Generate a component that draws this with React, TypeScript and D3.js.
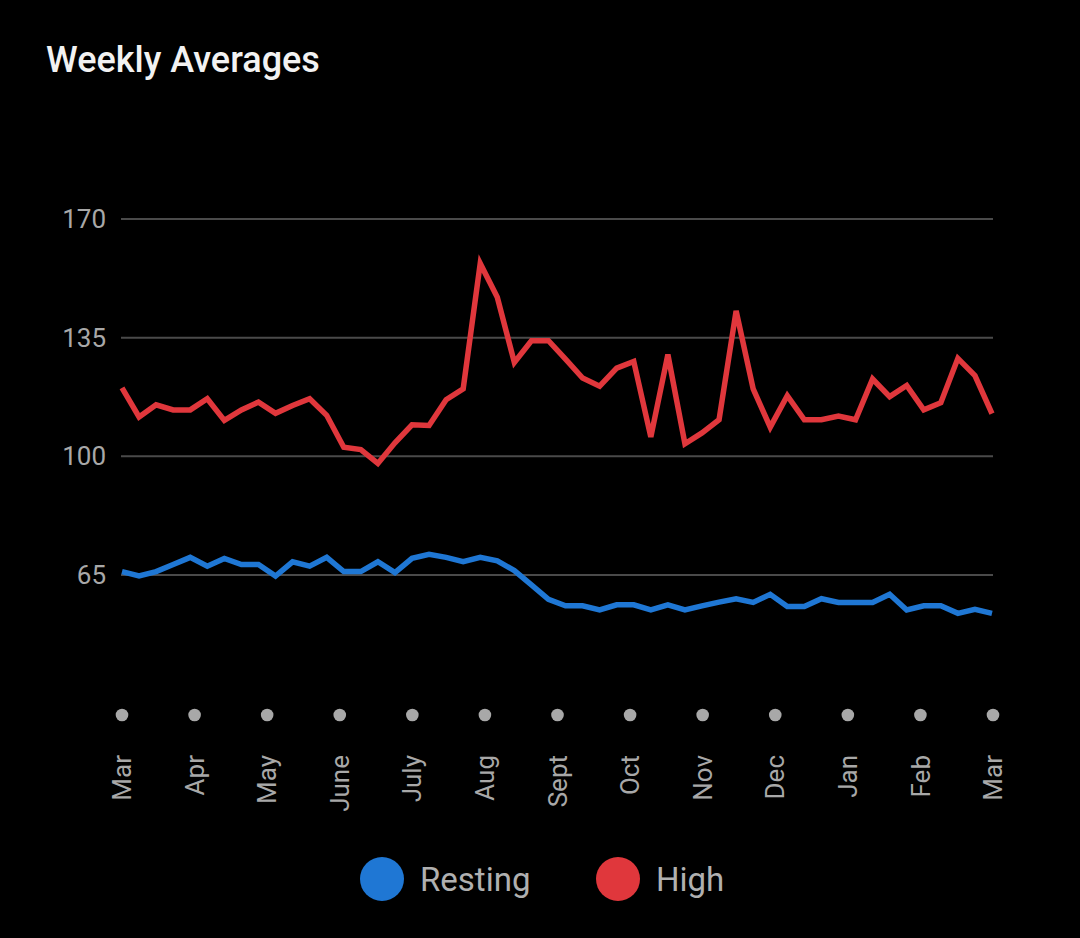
import React, { useEffect } from "react";
import * as d3 from "d3";

const months = ["Mar", "Apr", "May", "June", "July", "Aug", "Sept", "Oct", "Nov", "Dec", "Jan", "Feb", "Mar"];
const yTicks = [65, 100, 135, 170];

// weekly averages, one value per week
const highValues = [
  120.2, 111.6, 115.2, 113.7, 113.7, 117.0, 110.6, 113.7, 116.0, 112.7,
  115.0, 117.0, 112.1, 102.7, 102.0, 97.9, 104.0, 109.3, 109.1, 116.7,
  119.9, 156.9, 146.9, 127.7, 134.1, 134.1, 128.7, 123.1, 120.7, 126.0,
  128.0, 105.7, 130.0, 103.7, 106.9, 110.8, 142.9, 119.9, 108.6, 117.9,
  110.8, 110.8, 111.9, 110.8, 122.8, 117.6, 120.9, 113.7, 115.8, 128.9,
  123.8, 112.6,
];
const restingValues = [
  66.0, 64.7, 66.0, 68.1, 70.2, 67.6, 69.9, 68.1, 68.1, 64.7,
  68.9, 67.6, 70.2, 66.0, 66.0, 68.9, 65.7, 69.9, 71.1, 70.2,
  68.9, 70.2, 69.2, 66.3, 62.1, 57.8, 55.9, 55.9, 54.7, 56.2,
  56.2, 54.7, 56.2, 54.7, 55.9, 57.0, 58.0, 56.9, 59.3, 55.7,
  55.7, 58.0, 56.9, 56.9, 56.9, 59.3, 54.7, 55.9, 55.9, 53.7,
  54.9, 53.7,
];

const seriesNames = ["Resting", "High"];
const seriesColors = ["#1f77d4", "#e0373c"];

const W = 1080;
const H = 938;
const font = "Roboto, 'Noto Sans', sans-serif";

export default function App() {
  useEffect(() => {
    document.body.style.margin = "0";
    document.body.style.background = "#000";
  }, []);

  const x = d3.scaleLinear().domain([0, highValues.length - 1]).range([122, 992]);
  const y = d3.scaleLinear().domain([65, 170]).range([575, 219]);
  const xMonth = d3
    .scalePoint<number>()
    .domain(months.map((_, i) => i))
    .range([122, 993]);

  const line = d3
    .line<number>()
    .x((_, i) => x(i))
    .y((d) => y(d));

  return (
    <svg width={W} height={H} style={{ display: "block", background: "#000" }} fontFamily={font}>
      <rect width={W} height={H} fill="#000" />
      <text x={46} y={72} fill="#f2f2f2" fontSize={36} fontWeight={500}>
        Weekly Averages
      </text>

      {/* gridlines + y labels */}
      {yTicks.map((t) => (
        <g key={t}>
          <line x1={121} x2={993} y1={y(t)} y2={y(t)} stroke="#4a4a4a" strokeWidth={2} />
          <text x={106} y={y(t)} dy="0.35em" textAnchor="end" fill="#a8a8a8" fontSize={26}>
            {t}
          </text>
        </g>
      ))}

      {/* lines */}
      <path d={line(restingValues) || ""} fill="none" stroke={seriesColors[0]} strokeWidth={5.5} strokeLinejoin="miter" />
      <path d={line(highValues) || ""} fill="none" stroke={seriesColors[1]} strokeWidth={5.5} strokeLinejoin="miter" />

      {/* month ticks */}
      {months.map((m, i) => (
        <g key={i}>
          <circle cx={xMonth(i)} cy={715} r={6.3} fill="#a8a8a8" />
          <text
            transform={`translate(${xMonth(i)},755) rotate(-90)`}
            textAnchor="end"
            dy="0.35em"
            fill="#a8a8a8"
            fontSize={26}
          >
            {m}
          </text>
        </g>
      ))}

      {/* legend */}
      {seriesNames.map((s, i) => (
        <g key={s} transform={`translate(${i === 0 ? 382 : 618},879)`}>
          <circle r={22} fill={seriesColors[i]} />
          <text x={38} dy="0.35em" fill="#b0b0b0" fontSize={33}>
            {s}
          </text>
        </g>
      ))}
    </svg>
  );
}
